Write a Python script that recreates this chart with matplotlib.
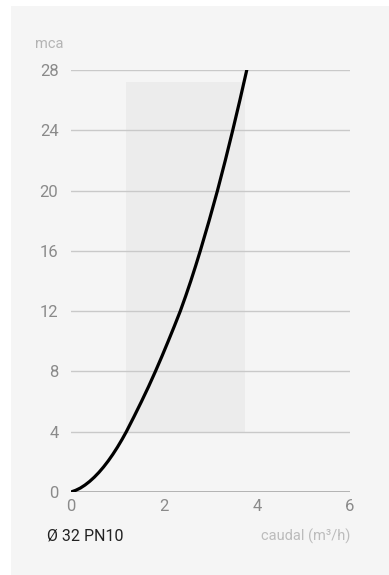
import matplotlib
matplotlib.use("Agg")
import matplotlib.pyplot as plt
from matplotlib.patches import Rectangle
from matplotlib import font_manager

# Data
flow = [0.0, 0.1, 0.2, 0.3, 0.4, 0.5, 0.6, 0.7, 0.8, 0.9, 1.0, 1.1, 1.19,
        1.355, 1.515, 1.669, 1.815, 1.955, 2.09, 2.222, 2.35, 2.466, 2.576,
        2.68, 2.78, 2.97, 3.15, 3.318, 3.478, 3.632, 3.78]
head = [0.0, 0.11, 0.26, 0.46, 0.70, 0.98, 1.30, 1.66, 2.06, 2.50, 2.98, 3.50, 4.0,
        5.0, 6.0, 7.0, 8.0, 9.0, 10.0, 11.0, 12.0, 13.0, 14.0,
        15.0, 16.0, 18.0, 20.0, 22.0, 24.0, 26.0, 28.0]
range_x = [1.18, 3.74]
range_y = [4.0, 27.2]
xticks = [0, 2, 4, 6]
yticks = [0, 4, 8, 12, 16, 20, 24, 28]

names = {f.name for f in font_manager.fontManager.ttflist}
fam = ["Liberation Sans Narrow"] if "Liberation Sans Narrow" in names else ["Roboto"]
plt.rcParams["font.family"] = fam + ["DejaVu Sans"]

W, H = 389, 575
fig = plt.figure(figsize=(W / 100, H / 100), dpi=100)
fig.patch.set_facecolor("white")
fig.patches.append(Rectangle((11 / W, 0), 1, 1 - 6 / H, transform=fig.transFigure,
                             facecolor="#f5f5f5", edgecolor="none", zorder=-10))

ax = fig.add_axes([71 / W, 83 / H, (350 - 71) / W, (492 - 70) / H])
ax.set_zorder(5)
ax.set_facecolor("none")
ax.set_xlim(0, 6)
ax.set_ylim(0, 28)

ax.add_patch(Rectangle((range_x[0], range_y[0]), range_x[1] - range_x[0],
                       range_y[1] - range_y[0], facecolor="#ececec", edgecolor="none", zorder=1))
for y in yticks[1:]:
    ax.axhline(y, color="#c9c9c9", lw=1, zorder=2)
ax.axhline(0, color="#a8a8a8", lw=1.2, zorder=2)

ax.plot(flow, head, color="black", lw=2.3, zorder=3, solid_capstyle="round",
        solid_joinstyle="round")

for s in ax.spines.values():
    s.set_visible(False)
ax.set_xticks(xticks)
ax.set_yticks(yticks)
ax.tick_params(length=0, labelsize=12, labelcolor="#8a8a8a")
ax.tick_params(axis="y", pad=9)
ax.tick_params(axis="x", pad=5)

fig.text(35 / W, 1 - 44 / H, "mca", fontsize=10.5, color="#b4b4b4", ha="left", va="center")
fig.text(350 / W, 1 - 536 / H, "caudal (m³/h)", fontsize=10.5, color="#bcbcbc", ha="right", va="center")
fig.text(47 / W, 1 - 536 / H, "Ø 32 PN10", fontsize=11.5, color="#222222", ha="left", va="center")

fig.savefig("out.png", dpi=100)
